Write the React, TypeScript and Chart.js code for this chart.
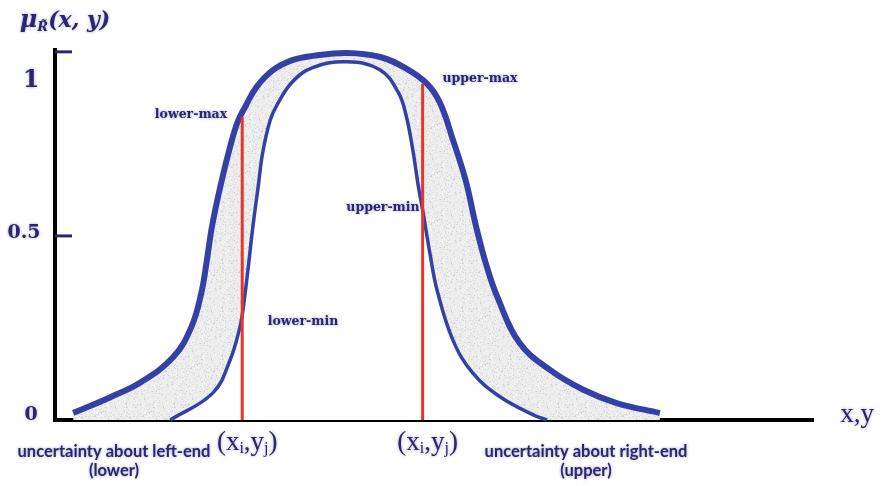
import React, { useEffect, useRef } from "react";
import { Chart, registerables } from "chart.js";

Chart.register(...registerables);

// Outer (upper) membership curve
const outerX = [0.24, 0.73, 1.12, 1.56, 1.8, 1.93, 2.0, 2.07, 2.18, 2.31, 2.41, 2.51, 2.66, 2.88, 3.14, 3.4, 3.85, 4.29, 4.64, 4.91, 5.08, 5.25, 5.42, 5.55, 5.69, 5.84, 6.13, 6.53, 6.97, 7.41, 7.98];
const outerY = [0.019, 0.062, 0.101, 0.171, 0.253, 0.345, 0.429, 0.524, 0.633, 0.742, 0.81, 0.851, 0.905, 0.951, 0.978, 0.989, 0.997, 0.986, 0.954, 0.913, 0.861, 0.761, 0.649, 0.53, 0.421, 0.332, 0.209, 0.136, 0.082, 0.046, 0.019];

// Inner (lower) membership curve
const innerX = [1.52, 2.08, 2.31, 2.44, 2.48, 2.55, 2.61, 2.68, 2.74, 2.84, 2.93, 3.13, 3.4, 3.85, 4.29, 4.53, 4.63, 4.72, 4.79, 4.85, 4.95, 5.04, 5.25, 5.51, 5.87, 6.31, 6.49];
const innerY = [0, 0.073, 0.163, 0.253, 0.299, 0.416, 0.524, 0.633, 0.726, 0.815, 0.856, 0.918, 0.957, 0.973, 0.951, 0.889, 0.829, 0.734, 0.639, 0.571, 0.448, 0.353, 0.217, 0.128, 0.063, 0.014, 0];

// Vertical cuts at (xi, yj)
const cutX = [2.47, 4.85];
const cutTop = [0.823, 0.913];

// Axis ticks
const yTickValues = [0, 0.5, 1];
const yTickLabels = ["0", "0.5", "1"];

// Texts
const cutLabels = ["lower-max", "lower-min", "upper-max", "upper-min"];
const leftNote = ["uncertainty about left-end", "(lower)"];
const rightNote = ["uncertainty about right-end", "(upper)"];
const xAxisLabel = "x,y";

const NAVY = "#2b2672";
const BLUE = "#3540a6";
const RED = "#e8352a";

type Part = { t: string; font: string; dy?: number };

function drawRich(ctx: CanvasRenderingContext2D, parts: Part[], cx: number, cy: number) {
  let total = 0;
  const widths = parts.map((p) => {
    ctx.font = p.font;
    const w = ctx.measureText(p.t).width;
    total += w;
    return w;
  });
  let x = cx - total / 2;
  ctx.textAlign = "left";
  ctx.textBaseline = "middle";
  parts.forEach((p, i) => {
    ctx.font = p.font;
    ctx.fillText(p.t, x, cy + (p.dy || 0));
    x += widths[i];
  });
}

function text(ctx: CanvasRenderingContext2D, t: string, font: string, x: number, y: number, align: CanvasTextAlign = "center") {
  ctx.font = font;
  ctx.textAlign = align;
  ctx.textBaseline = "middle";
  ctx.fillText(t, x, y);
}

function makeSpeckle(): CanvasPattern | string {
  const c = document.createElement("canvas");
  c.width = 48;
  c.height = 48;
  const g = c.getContext("2d");
  if (!g) return "#e8e8e8";
  g.fillStyle = "#ededed";
  g.fillRect(0, 0, 48, 48);
  let s = 12345;
  const next = () => {
    s = (s * 1103515245 + 12345) % 2147483648;
    return s / 2147483648;
  };
  for (let i = 0; i < 460; i++) {
    const x = Math.floor(next() * 48);
    const y = Math.floor(next() * 48);
    const v = next();
    g.fillStyle = v < 0.55 ? "#dcdcdc" : v < 0.75 ? "#cfcfcf" : "#f9f9f9";
    g.fillRect(x, y, 1, 1);
  }
  return g.createPattern(c, "repeat") || "#e8e8e8";
}

const overlay = {
  id: "overlay",
  afterDraw(chart: any) {
    const ctx: CanvasRenderingContext2D = chart.ctx;
    const ys = chart.scales.y;
    const xs = chart.scales.x;
    const left = chart.chartArea.left;
    ctx.save();
    // inward tick marks
    ctx.strokeStyle = NAVY;
    ctx.lineWidth = 3;
    yTickValues.forEach((v) => {
      if (v === 0) return;
      const py = ys.getPixelForValue(v);
      ctx.beginPath();
      ctx.moveTo(left, py);
      ctx.lineTo(left + 17, py);
      ctx.stroke();
    });
    ctx.fillStyle = NAVY;
    ctx.shadowColor = "rgba(43,38,114,0.45)";
    ctx.shadowBlur = 3;
    // tick labels
    text(ctx, yTickLabels[2], 'bold 24px "DejaVu Serif"', 31, 81);
    text(ctx, yTickLabels[1], 'bold 19px "DejaVu Serif"', 24, 233);
    text(ctx, yTickLabels[0], 'bold 19px "DejaVu Serif"', 31, 415);

    // title
    drawRich(
      ctx,
      [
        { t: "\u03bc", font: 'bold italic 24px "DejaVu Serif"' },
        { t: "R\u0303", font: 'bold italic 13px "DejaVu Serif"', dy: 7 },
        { t: "(x, y)", font: 'bold italic 22px "DejaVu Serif"' },
      ],
      65,
      21
    );

    // cut labels
    const lf = 'bold 12.5px "DejaVu Serif"';
    text(ctx, cutLabels[0], lf, 191, 115);
    text(ctx, cutLabels[1], lf, 303, 322);
    text(ctx, cutLabels[2], lf, 480, 79);
    text(ctx, cutLabels[3], lf, 383, 208);

    // (xi, yj) labels under the cuts
    cutX.forEach((cx) => {
      const px = xs.getPixelForValue(cx) + 5;
      drawRich(
        ctx,
        [
          { t: "(x", font: '27px "Liberation Serif"' },
          { t: "i", font: '16px "Liberation Serif"', dy: 6 },
          { t: ",y", font: '27px "Liberation Serif"' },
          { t: "j", font: '16px "Liberation Serif"', dy: 6 },
          { t: ")", font: '27px "Liberation Serif"' },
        ],
        px,
        443
      );
    });

    // notes
    const nf = 'bold 16.5px "Lato"';
    text(ctx, leftNote[0], nf, 114, 452);
    text(ctx, leftNote[1], nf, 114, 471);
    text(ctx, rightNote[0], nf, 586, 452);
    text(ctx, rightNote[1], nf, 586, 471);

    // axis label
    text(ctx, xAxisLabel, '27px "Liberation Serif"', 857, 415);
    ctx.restore();
  },
};

export default function App() {
  const ref = useRef<HTMLCanvasElement>(null);
  useEffect(() => {
    if (!ref.current) return;
    const outer = outerX.map((x, i) => ({ x, y: outerY[i] }));
    const inner = innerX.map((x, i) => ({ x, y: innerY[i] }));
    const speckle = makeSpeckle();
    const cuts = cutX.map((x, i) => ({
      type: "line" as const,
      data: [
        { x, y: 0 },
        { x, y: cutTop[i] },
      ],
      borderColor: RED,
      borderWidth: 3,
      pointRadius: 0,
      fill: false,
      tension: 0,
      clip: false as any,
    }));
    const chart = new Chart(ref.current, {
      type: "line",
      data: {
        datasets: [
          ...cuts,
          {
            data: inner,
            borderColor: BLUE,
            borderWidth: 3.5,
            pointRadius: 0,
            fill: "origin",
            backgroundColor: "#ffffff",
            tension: 0.4,
            clip: false as any,
          },
          {
            data: outer,
            borderColor: BLUE,
            borderWidth: 6,
            pointRadius: 0,
            fill: "origin",
            backgroundColor: speckle,
            tension: 0.4,
            clip: false as any,
          },
        ] as any,
      },
      options: {
        animation: false,
        responsive: true,
        maintainAspectRatio: false,
        events: [],
        layout: { padding: { left: 0, top: 50, right: 69, bottom: 0 } },
        plugins: { legend: { display: false }, tooltip: { enabled: false } },
        scales: {
          x: {
            type: "linear",
            min: 0,
            max: 10,
            z: 1,
            grid: { display: false, drawTicks: false },
            ticks: { display: false },
            border: { display: true, color: "#000", width: 4 },
            afterFit: (s: any) => {
              s.height = 66;
            },
          },
          y: {
            type: "linear",
            min: 0,
            max: 1.005,
            z: 1,
            grid: { display: false, drawTicks: false },
            ticks: { display: false },
            border: { display: true, color: "#000", width: 4 },
            afterFit: (s: any) => {
              s.width = 55;
            },
          },
        },
      } as any,
      plugins: [overlay],
    });
    return () => chart.destroy();
  }, []);
  return (
    <div style={{ position: "fixed", left: 0, top: 0, width: 882, height: 486, background: "#fff" }}>
      <canvas ref={ref} />
    </div>
  );
}
